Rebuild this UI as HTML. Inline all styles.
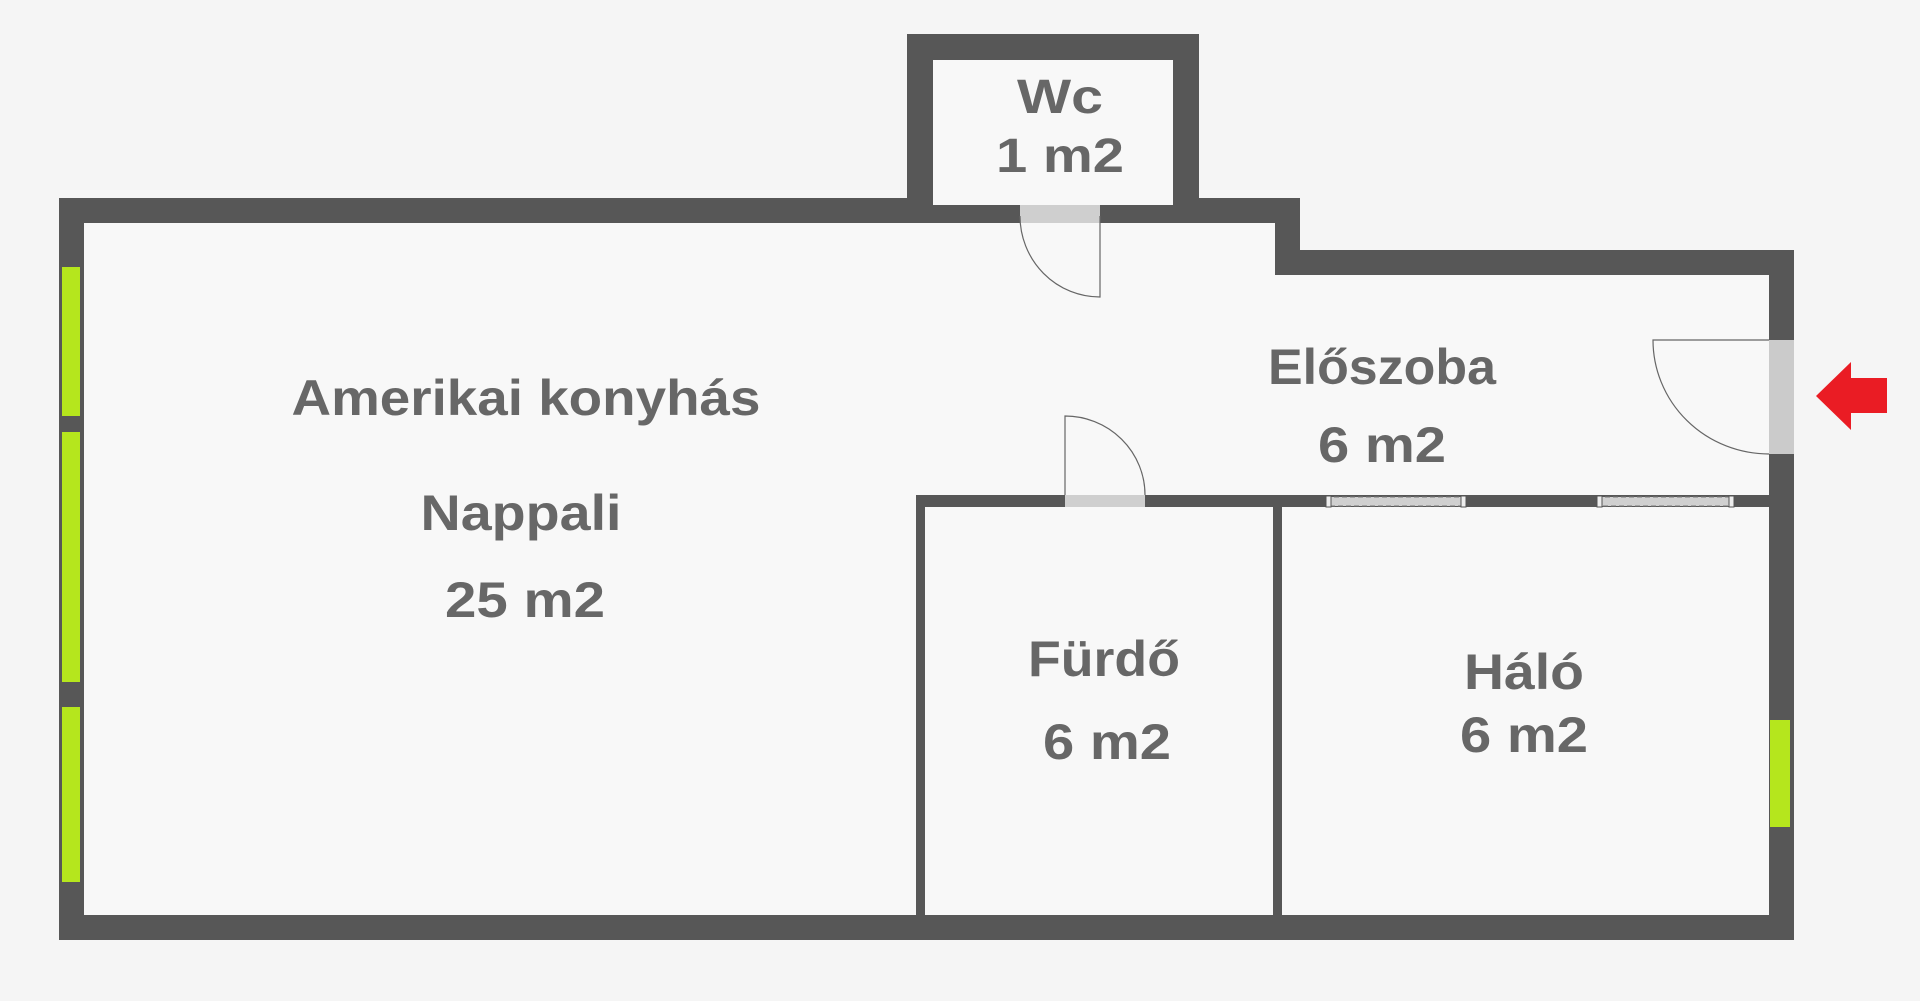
<!DOCTYPE html>
<html><head><meta charset="utf-8"><style>
html,body{margin:0;padding:0;background:#f5f5f5;}
svg{display:block}
text{font-family:"Liberation Sans",sans-serif;font-weight:bold;fill:#676767;text-anchor:middle}
</style></head><body>
<svg width="1920" height="1001" viewBox="0 0 1920 1001" xmlns="http://www.w3.org/2000/svg">
<rect width="1920" height="1001" fill="#f5f5f5"/>
<polygon points="59,198 907,198 907,34 1199,34 1199,198 1300,198 1300,250 1794,250 1794,940 59,940" fill="#575757"/>
<polygon points="84,223 1275,223 1275,275 1769,275 1769,915 84,915" fill="#f8f8f8"/>
<rect x="933" y="60" width="240" height="145" fill="#f8f8f8"/>
<rect x="1020" y="205" width="80" height="18" fill="#cfcfcf"/>
<!-- WC door -->
<path d="M1100,216 L1100,297 A80,81 0 0 1 1020,216" fill="none" stroke="#666" stroke-width="1.2"/>
<!-- interior walls -->
<rect x="916" y="495" width="853" height="12" fill="#575757"/>
<rect x="916" y="495" width="9" height="420" fill="#575757"/>
<rect x="1273" y="495" width="9" height="420" fill="#575757"/>
<rect x="1065" y="495" width="80" height="12" fill="#cfcfcf"/>
<path d="M1065,495 L1065,416 A80,79 0 0 1 1145,495" fill="none" stroke="#666" stroke-width="1.2"/>
<!-- sliding doors -->
<rect x="1326" y="497" width="140" height="9" fill="#d0d0d0" stroke="#777" stroke-width="1" stroke-dasharray="5,3"/>
<rect x="1597" y="497" width="137" height="9" fill="#d0d0d0" stroke="#777" stroke-width="1" stroke-dasharray="5,3"/>
<rect x="1326" y="496" width="5" height="11" fill="#eee" stroke="#555"/>
<rect x="1461" y="496" width="5" height="11" fill="#eee" stroke="#555"/>
<rect x="1597" y="496" width="5" height="11" fill="#eee" stroke="#555"/>
<rect x="1729" y="496" width="5" height="11" fill="#eee" stroke="#555"/>
<!-- entrance door -->
<rect x="1769" y="340" width="25" height="114" fill="#cbcbcb"/>
<path d="M1769,340 L1653,340 A116,114 0 0 0 1769,454" fill="none" stroke="#666" stroke-width="1.2"/>
<!-- arrow -->
<polygon points="1816,396 1851,362 1851,378 1887,378 1887,413 1851,413 1851,430" fill="#ea1c24"/>
<!-- windows -->
<rect x="62" y="267" width="18" height="149" fill="#b5e61d"/>
<rect x="62" y="432" width="18" height="250" fill="#b5e61d"/>
<rect x="62" y="707" width="18" height="175" fill="#b5e61d"/>
<rect x="1770" y="720" width="20" height="107" fill="#b5e61d"/>
<!-- labels -->
<text x="1060" y="113" font-size="48" textLength="86" lengthAdjust="spacingAndGlyphs">Wc</text>
<text x="1060" y="172" font-size="48" textLength="128" lengthAdjust="spacingAndGlyphs">1 m2</text>
<text x="526" y="415" font-size="50" textLength="469" lengthAdjust="spacingAndGlyphs">Amerikai konyhás</text>
<text x="521" y="530" font-size="50" textLength="201" lengthAdjust="spacingAndGlyphs">Nappali</text>
<text x="525" y="617" font-size="50" textLength="160" lengthAdjust="spacingAndGlyphs">25 m2</text>
<text x="1382" y="384" font-size="50" textLength="228" lengthAdjust="spacingAndGlyphs">Előszoba</text>
<text x="1382" y="462" font-size="50" textLength="128" lengthAdjust="spacingAndGlyphs">6 m2</text>
<text x="1104" y="676" font-size="50" textLength="152" lengthAdjust="spacingAndGlyphs">Fürdő</text>
<text x="1107" y="759" font-size="50" textLength="128" lengthAdjust="spacingAndGlyphs">6 m2</text>
<text x="1524" y="689" font-size="50" textLength="120" lengthAdjust="spacingAndGlyphs">Háló</text>
<text x="1524" y="752" font-size="50" textLength="128" lengthAdjust="spacingAndGlyphs">6 m2</text>
</svg>
</body></html>
